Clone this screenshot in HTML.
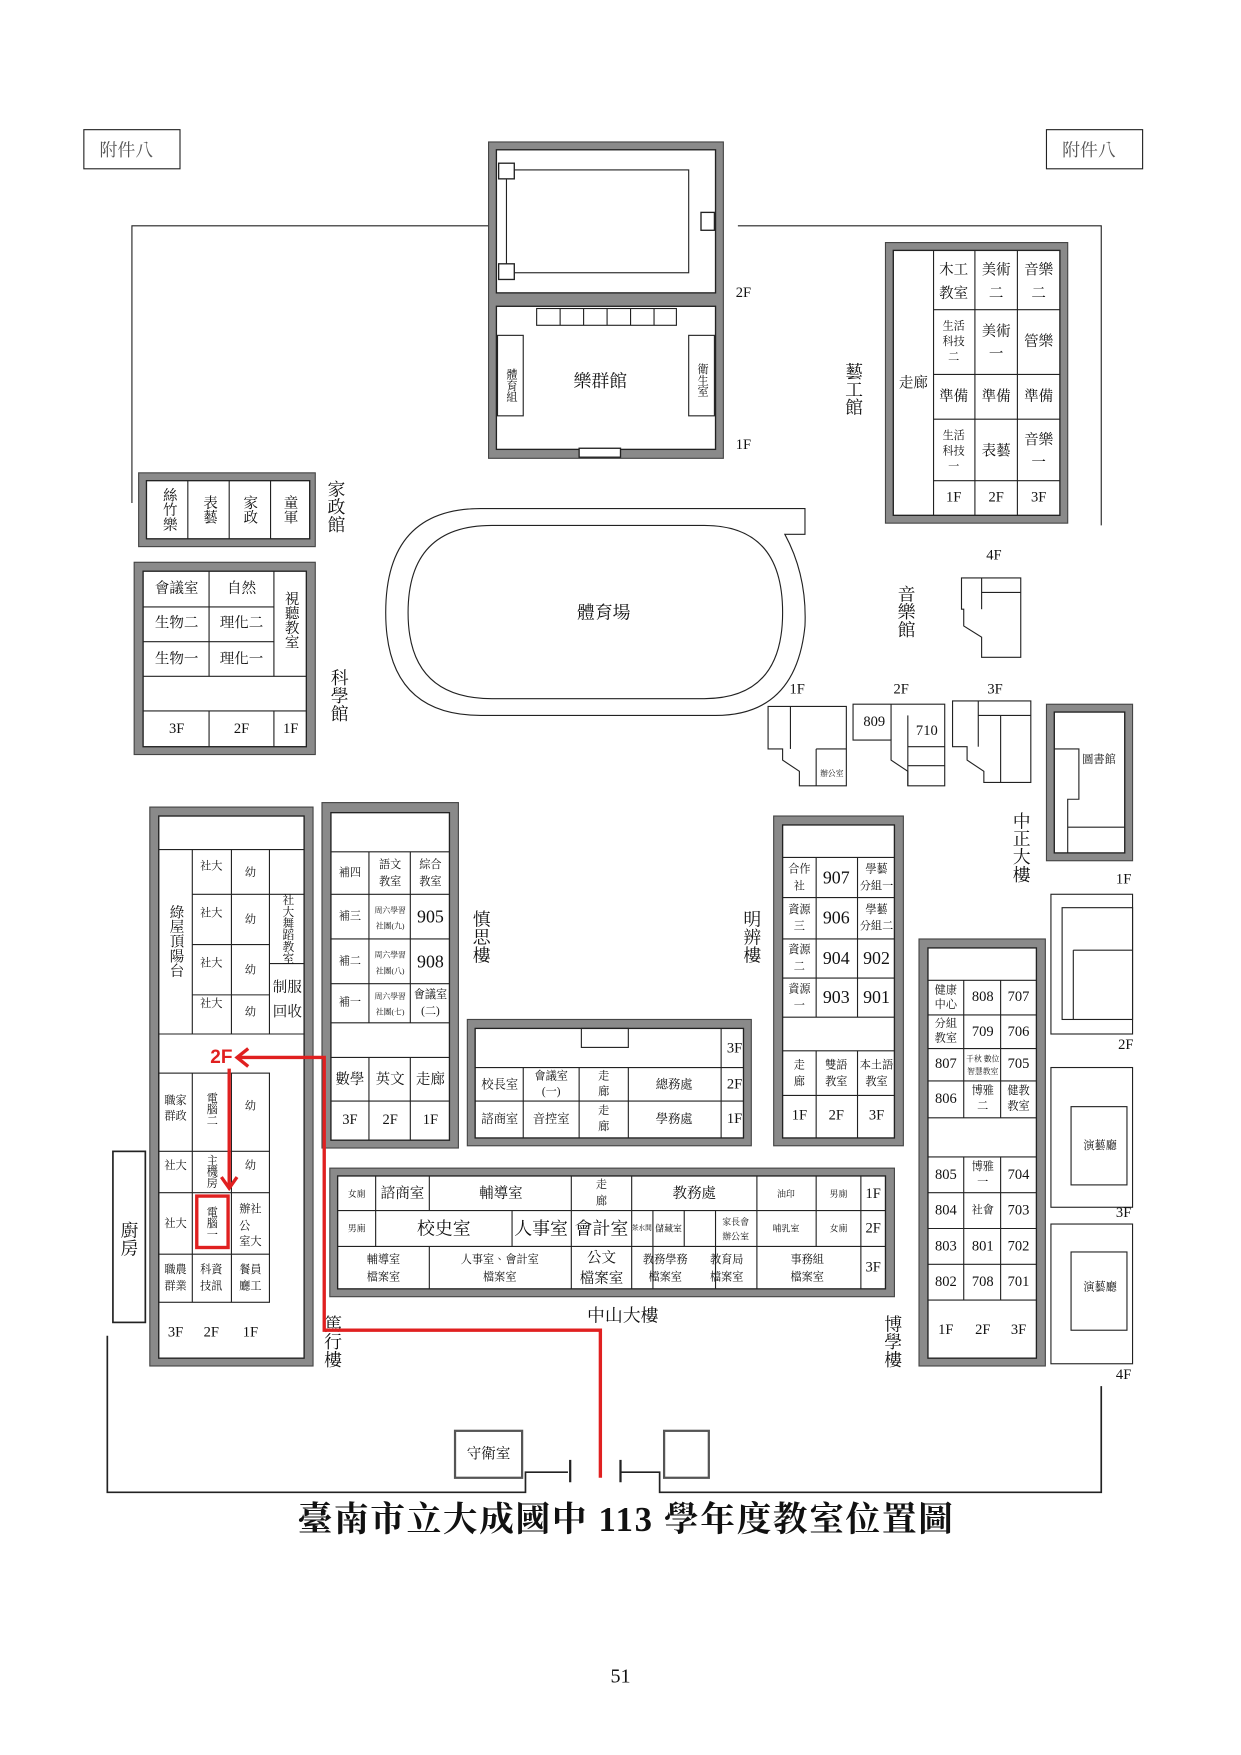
<!DOCTYPE html>
<html><head><meta charset="utf-8"><style>
html,body{margin:0;padding:0;background:#fff;}
svg{display:block}
text{font-family:"Liberation Serif","Noto Serif CJK TC","Noto Sans CJK TC",serif;fill:#111;text-anchor:middle;dominant-baseline:central}
.v{writing-mode:vertical-rl;text-orientation:upright}
.s{font-size:10px}
.m{font-size:13px}
.l{font-size:16px}
.o{fill:#8a8a8a;stroke:#444;stroke-width:1}
.i{fill:#fff;stroke:#222;stroke-width:1.2}
line,polyline,.c{stroke:#222;stroke-width:1;fill:none}
</style></head><body>
<svg width="1241" height="1755" viewBox="0 0 1110 1570" preserveAspectRatio="none" xmlns="http://www.w3.org/2000/svg">
<rect x="75" y="116" width="86" height="35" class="c"/><text x="113" y="134" class="l" style="fill:#555">附件八</text>
<rect x="936" y="116" width="86" height="35" class="c"/><text x="974" y="134" class="l" style="fill:#555">附件八</text>
<polyline points="118,450 118,202 437,202"/>
<polyline points="660,202 985,202 985,470"/>
<rect x="437" y="127" width="210" height="283" class="o"/>
<rect x="444" y="134" width="196" height="128" class="i"/>
<rect x="444" y="274" width="196" height="128" class="i"/>
<rect x="453" y="152" width="163" height="92" class="c"/>
<rect x="446" y="146" width="14" height="14" class="i"/><rect x="446" y="236" width="14" height="14" class="i"/><rect x="627" y="190" width="12" height="16" class="i"/>
<text x="665" y="262" class="m">2F</text>
<rect x="480" y="276" width="125" height="15" class="c"/>
<line x1="501" y1="276" x2="501" y2="291"/><line x1="522" y1="276" x2="522" y2="291"/><line x1="543" y1="276" x2="543" y2="291"/><line x1="564" y1="276" x2="564" y2="291"/><line x1="585" y1="276" x2="585" y2="291"/>
<rect x="445" y="300" width="23" height="72" class="c"/><text x="457" y="345" class="v s">體育組</text>
<rect x="616" y="300" width="23" height="72" class="c"/><text x="628" y="340" class="v s">衛生室</text>
<text x="537" y="341" class="l">樂群館</text>
<rect x="518" y="401" width="37" height="8" class="i"/>
<text x="665" y="398" class="m">1F</text>
<rect x="792" y="217" width="163" height="251" class="o"/>
<rect x="799" y="224" width="149" height="237" class="i"/>
<line x1="835" y1="224" x2="835" y2="461"/><line x1="872" y1="224" x2="872" y2="461"/><line x1="910" y1="224" x2="910" y2="461"/>
<line x1="835" y1="277" x2="948" y2="277"/><line x1="835" y1="335" x2="948" y2="335"/><line x1="835" y1="375" x2="948" y2="375"/><line x1="835" y1="430" x2="948" y2="430"/>
<text x="817" y="343" class="m">走廊</text>
<text class="m"><tspan x="853" y="242">木工</tspan><tspan x="853" y="263">教室</tspan></text>
<text class="m"><tspan x="891" y="242">美術</tspan><tspan x="891" y="263">二</tspan></text>
<text class="m"><tspan x="929" y="242">音樂</tspan><tspan x="929" y="263">二</tspan></text>
<text class="s"><tspan x="853" y="292">生活</tspan><tspan x="853" y="306">科技</tspan><tspan x="853" y="320">二</tspan></text>
<text class="m"><tspan x="891" y="297">美術</tspan><tspan x="891" y="317">一</tspan></text>
<text x="929" y="306" class="m">管樂</text>
<text x="853" y="355" class="m">準備</text><text x="891" y="355" class="m">準備</text><text x="929" y="355" class="m">準備</text>
<text class="s"><tspan x="853" y="390">生活</tspan><tspan x="853" y="404">科技</tspan><tspan x="853" y="418">一</tspan></text>
<text x="891" y="404" class="m">表藝</text>
<text class="m"><tspan x="929" y="394">音樂</tspan><tspan x="929" y="414">一</tspan></text>
<text x="853" y="445" class="m">1F</text><text x="891" y="445" class="m">2F</text><text x="929" y="445" class="m">3F</text>
<text x="763" y="348" class="v l">藝工館</text>
<rect x="124" y="423" width="158" height="66" class="o"/>
<rect x="131" y="430" width="146" height="52" class="i"/>
<line x1="168" y1="430" x2="168" y2="482"/><line x1="205" y1="430" x2="205" y2="482"/><line x1="242" y1="430" x2="242" y2="482"/>
<text x="151" y="456" class="v m">絲竹樂</text><text x="187" y="456" class="v m">表藝</text><text x="223" y="456" class="v m">家政</text><text x="259" y="456" class="v m">童軍</text>
<text x="300" y="453" class="v l">家政館</text>
<rect x="120" y="503" width="162" height="172" class="o"/>
<rect x="128" y="511" width="146" height="157" class="i"/>
<line x1="128" y1="543" x2="245" y2="543"/><line x1="128" y1="574" x2="245" y2="574"/><line x1="128" y1="605" x2="274" y2="605"/><line x1="128" y1="636" x2="274" y2="636"/>
<line x1="187" y1="511" x2="187" y2="605"/><line x1="245" y1="511" x2="245" y2="605"/>
<line x1="187" y1="636" x2="187" y2="668"/><line x1="245" y1="636" x2="245" y2="668"/>
<text x="158" y="527" class="m">會議室</text><text x="216" y="527" class="m">自然</text>
<text x="158" y="558" class="m">生物二</text><text x="216" y="558" class="m">理化二</text>
<text x="158" y="590" class="m">生物一</text><text x="216" y="590" class="m">理化一</text>
<text x="260" y="555" class="v m">視聽教室</text>
<text x="158" y="652" class="m">3F</text><text x="216" y="652" class="m">2F</text><text x="260" y="652" class="m">1F</text>
<text x="303" y="622" class="v l">科學館</text>
<path d="M430,455 L720,455 L720,478 L702,478 Q722,515 720,560 Q712,640 640,640 L430,640 Q345,640 345,548 Q345,455 430,455 Z" class="c"/>
<path d="M440,470 L630,470 Q700,470 700,548 Q700,625 630,625 L440,625 Q365,625 365,548 Q365,470 440,470 Z" class="c"/>
<text x="540" y="548" class="l">體育場</text>
<text x="810" y="547" class="v l">音樂館</text>
<text x="889" y="497" class="m">4F</text>
<path d="M860,517 L913,517 L913,588 L878,588 L878,570 L862,560 L862,545 L860,545 Z" class="c"/><line x1="878" y1="517" x2="878" y2="545"/><line x1="878" y1="530" x2="913" y2="530"/>
<text x="713" y="617" class="m">1F</text><text x="806" y="617" class="m">2F</text><text x="890" y="617" class="m">3F</text>
<path d="M687,632 L757,632 L757,703 L715,703 L715,690 L700,680 L700,670 L687,670 Z" class="c"/><line x1="707" y1="632" x2="707" y2="670"/><line x1="730" y1="670" x2="757" y2="670"/><line x1="730" y1="670" x2="730" y2="703"/><text x="744" y="692" class="s" style="font-size:7px">辦公室</text>
<path d="M763,630 L845,630 L845,703 L812,703 L812,690 L797,680 L797,662 L763,662 Z" class="c"/><line x1="797" y1="630" x2="797" y2="662"/><line x1="812" y1="640" x2="812" y2="703"/><line x1="812" y1="668" x2="845" y2="668"/><line x1="812" y1="685" x2="845" y2="685"/>
<text x="782" y="646" class="m">809</text><text x="829" y="654" class="m">710</text>
<path d="M852,627 L922,627 L922,700 L880,700 L880,690 L865,680 L865,668 L852,668 Z" class="c"/><line x1="875" y1="627" x2="875" y2="668"/><line x1="895" y1="640" x2="895" y2="700"/><line x1="875" y1="640" x2="922" y2="640"/>
<rect x="936" y="630" width="77" height="140" class="o"/>
<rect x="943" y="637" width="63" height="126" class="i"/>
<polyline points="943,670 965,670 965,715 955,715 955,763"/><line x1="955" y1="740" x2="1006" y2="740"/>
<text x="983" y="680" class="s">圖書館</text>
<text x="913" y="758" class="v l">中正大樓</text>
<text x="1005" y="787" class="m">1F</text>
<rect x="940" y="800" width="73" height="125" class="c"/><rect x="950" y="812" width="63" height="100" class="c"/><line x1="960" y1="850" x2="1013" y2="850"/><line x1="960" y1="850" x2="960" y2="912"/>
<text x="1007" y="935" class="m">2F</text>
<rect x="940" y="955" width="73" height="125" class="c"/><rect x="958" y="990" width="50" height="70" class="c"/><text x="984" y="1025" class="s">演藝廳</text>
<text x="1005" y="1085" class="m">3F</text>
<rect x="940" y="1095" width="73" height="125" class="c"/><rect x="958" y="1120" width="50" height="70" class="c"/><text x="984" y="1152" class="s">演藝廳</text>
<text x="1005" y="1230" class="m">4F</text>
<rect x="134" y="722" width="146" height="500" class="o"/>
<rect x="142" y="730" width="130" height="485" class="i"/>
<line x1="142" y1="760" x2="272" y2="760"/><line x1="142" y1="925" x2="272" y2="925"/>
<line x1="172" y1="760" x2="172" y2="925"/><line x1="207" y1="760" x2="207" y2="925"/><line x1="241" y1="760" x2="241" y2="925"/>
<line x1="172" y1="800" x2="241" y2="800"/><line x1="172" y1="845" x2="241" y2="845"/><line x1="172" y1="890" x2="241" y2="890"/><line x1="241" y1="800" x2="272" y2="800"/><line x1="241" y1="862" x2="272" y2="862"/>
<text x="157" y="842" class="v m">綠屋頂陽台</text>
<text x="189" y="775" class="s">社大</text><text x="224" y="781" class="s">幼</text>
<text x="189" y="817" class="s">社大</text><text x="224" y="823" class="s">幼</text>
<text x="189" y="862" class="s">社大</text><text x="224" y="868" class="s">幼</text>
<text x="189" y="898" class="s">社大</text><text x="224" y="906" class="s">幼</text>
<text x="257" y="831" class="v" style="font-size:10.5px">社大舞蹈教室</text>
<text class="m"><tspan x="257" y="884">制服</tspan><tspan x="257" y="906">回收</tspan></text>
<rect x="142" y="960" width="99" height="205" class="c"/>
<line x1="172" y1="960" x2="172" y2="1165"/><line x1="207" y1="960" x2="207" y2="1165"/>
<line x1="142" y1="1030" x2="241" y2="1030"/><line x1="142" y1="1067" x2="241" y2="1067"/><line x1="142" y1="1122" x2="241" y2="1122"/>
<text class="s"><tspan x="157" y="985">職家</tspan><tspan x="157" y="999">群政</tspan></text>
<text x="189" y="992" class="v s">電腦二</text><text x="224" y="990" class="s">幼</text>
<text x="157" y="1043" class="s">社大</text><text x="189" y="1048" class="v s">主機房</text><text x="224" y="1043" class="s">幼</text>
<text x="157" y="1095" class="s">社大</text><text x="189" y="1094" class="v s">電腦一</text>
<text class="s"><tspan x="224" y="1082">辦社</tspan><tspan x="219" y="1097">公</tspan><tspan x="224" y="1111">室大</tspan></text>
<text class="s"><tspan x="157" y="1136">職農</tspan><tspan x="157" y="1151">群業</tspan></text>
<text class="s"><tspan x="189" y="1136">科資</tspan><tspan x="189" y="1151">技訊</tspan></text>
<text class="s"><tspan x="224" y="1136">餐員</tspan><tspan x="224" y="1151">廳工</tspan></text>
<text x="157" y="1192" class="m">3F</text><text x="189" y="1192" class="m">2F</text><text x="224" y="1192" class="m">1F</text>
<rect x="101" y="1030" width="29" height="153" class="c" style="stroke-width:1.5"/><text x="115" y="1108" class="v l">廚房</text>
<text x="297" y="1200" class="v l">篤行樓</text>
<rect x="288" y="718" width="122" height="309" class="o"/>
<rect x="296" y="727" width="106" height="293" class="i"/>
<line x1="296" y1="762" x2="402" y2="762"/><line x1="296" y1="800" x2="402" y2="800"/><line x1="296" y1="840" x2="402" y2="840"/><line x1="296" y1="880" x2="402" y2="880"/><line x1="296" y1="915" x2="402" y2="915"/><line x1="296" y1="946" x2="402" y2="946"/><line x1="296" y1="985" x2="402" y2="985"/>
<line x1="330" y1="762" x2="330" y2="915"/><line x1="367" y1="762" x2="367" y2="915"/><line x1="330" y1="946" x2="330" y2="1020"/><line x1="367" y1="946" x2="367" y2="1020"/>
<text x="313" y="781" class="s">補四</text><text x="313" y="820" class="s">補三</text><text x="313" y="860" class="s">補二</text><text x="313" y="897" class="s">補一</text>
<text class="s"><tspan x="349" y="774">語文</tspan><tspan x="349" y="789">教室</tspan></text>
<text class="s"><tspan x="385" y="774">綜合</tspan><tspan x="385" y="789">教室</tspan></text>
<text class="s" style="font-size:7px"><tspan x="349" y="814">周六學習</tspan><tspan x="349" y="828">社團(九)</tspan></text>
<text class="s" style="font-size:7px"><tspan x="349" y="854">周六學習</tspan><tspan x="349" y="868">社團(八)</tspan></text>
<text class="s" style="font-size:7px"><tspan x="349" y="891">周六學習</tspan><tspan x="349" y="905">社團(七)</tspan></text>
<text x="385" y="820" class="l">905</text><text x="385" y="860" class="l">908</text>
<text class="s"><tspan x="385" y="890">會議室</tspan><tspan x="385" y="905">(二)</tspan></text>
<text x="313" y="966" class="m">數學</text><text x="349" y="966" class="m">英文</text><text x="385" y="966" class="m">走廊</text>
<text x="313" y="1002" class="m">3F</text><text x="349" y="1002" class="m">2F</text><text x="385" y="1002" class="m">1F</text>
<text x="430" y="838" class="v l">慎思樓</text>
<rect x="418" y="912" width="254" height="113" class="o"/>
<rect x="425" y="920" width="240" height="98" class="i"/>
<line x1="425" y1="955" x2="665" y2="955"/><line x1="425" y1="985" x2="665" y2="985"/>
<line x1="645" y1="920" x2="645" y2="1018"/><line x1="468" y1="955" x2="468" y2="1018"/><line x1="518" y1="955" x2="518" y2="1018"/><line x1="562" y1="955" x2="562" y2="1018"/>
<rect x="520" y="920" width="42" height="17" class="c"/>
<text x="657" y="938" class="m">3F</text><text x="657" y="970" class="m">2F</text><text x="657" y="1001" class="m">1F</text>
<text x="447" y="970" class="s" style="font-size:11px">校長室</text><text x="447" y="1001" class="s" style="font-size:11px">諮商室</text>
<text class="s"><tspan x="493" y="963">會議室</tspan><tspan x="493" y="977">(一)</tspan></text>
<text x="493" y="1001" class="s" style="font-size:11px">音控室</text>
<text class="s"><tspan x="540" y="963">走</tspan><tspan x="540" y="977">廊</tspan></text>
<text class="s"><tspan x="540" y="994">走</tspan><tspan x="540" y="1008">廊</tspan></text>
<text x="603" y="970" class="s" style="font-size:11px">總務處</text><text x="603" y="1001" class="s" style="font-size:11px">學務處</text>
<rect x="692" y="730" width="116" height="295" class="o"/>
<rect x="700" y="738" width="100" height="280" class="i"/>
<line x1="700" y1="767" x2="800" y2="767"/><line x1="700" y1="803" x2="800" y2="803"/><line x1="700" y1="840" x2="800" y2="840"/><line x1="700" y1="875" x2="800" y2="875"/><line x1="700" y1="910" x2="800" y2="910"/><line x1="700" y1="940" x2="800" y2="940"/><line x1="700" y1="980" x2="800" y2="980"/>
<line x1="730" y1="767" x2="730" y2="910"/><line x1="767" y1="767" x2="767" y2="910"/><line x1="730" y1="940" x2="730" y2="1018"/><line x1="767" y1="940" x2="767" y2="1018"/>
<text class="s"><tspan x="715" y="778">合作</tspan><tspan x="715" y="793">社</tspan></text>
<text class="s"><tspan x="715" y="814">資源</tspan><tspan x="715" y="829">三</tspan></text>
<text class="s"><tspan x="715" y="850">資源</tspan><tspan x="715" y="865">二</tspan></text>
<text class="s"><tspan x="715" y="885">資源</tspan><tspan x="715" y="900">一</tspan></text>
<text x="748" y="785" class="l">907</text><text x="748" y="821" class="l">906</text><text x="748" y="857" class="l">904</text><text x="748" y="892" class="l">903</text>
<text class="s"><tspan x="784" y="778">學藝</tspan><tspan x="784" y="793">分組一</tspan></text>
<text class="s"><tspan x="784" y="814">學藝</tspan><tspan x="784" y="829">分組二</tspan></text>
<text x="784" y="857" class="l">902</text><text x="784" y="892" class="l">901</text>
<text class="s"><tspan x="715" y="953">走</tspan><tspan x="715" y="968">廊</tspan></text>
<text class="s"><tspan x="748" y="953">雙語</tspan><tspan x="748" y="968">教室</tspan></text>
<text class="s"><tspan x="784" y="953">本土語</tspan><tspan x="784" y="968">教室</tspan></text>
<text x="715" y="998" class="m">1F</text><text x="748" y="998" class="m">2F</text><text x="784" y="998" class="m">3F</text>
<text x="672" y="838" class="v l">明辨樓</text>
<rect x="295" y="1045" width="505" height="115" class="o"/>
<rect x="302" y="1052" width="490" height="101" class="i"/>
<line x1="302" y1="1083" x2="792" y2="1083"/><line x1="302" y1="1115" x2="792" y2="1115"/><line x1="770" y1="1052" x2="770" y2="1153"/>
<line x1="336" y1="1052" x2="336" y2="1115"/><line x1="384" y1="1052" x2="384" y2="1083"/><line x1="511" y1="1052" x2="511" y2="1153"/><line x1="565" y1="1052" x2="565" y2="1153"/><line x1="677" y1="1052" x2="677" y2="1115"/><line x1="730" y1="1052" x2="730" y2="1115"/>
<line x1="458" y1="1083" x2="458" y2="1115"/><line x1="584" y1="1083" x2="584" y2="1153"/><line x1="612" y1="1083" x2="612" y2="1115"/><line x1="640" y1="1083" x2="640" y2="1153"/><line x1="384" y1="1115" x2="384" y2="1153"/><line x1="677" y1="1115" x2="677" y2="1153"/>
<text x="319" y="1068" class="s" style="font-size:8px">女廁</text><text x="360" y="1068" class="m">諮商室</text><text x="448" y="1068" class="m">輔導室</text>
<text class="s"><tspan x="538" y="1060">走</tspan><tspan x="538" y="1075">廊</tspan></text>
<text x="621" y="1068" class="m">教務處</text><text x="703" y="1068" class="s" style="font-size:8px">油印</text><text x="750" y="1068" class="s" style="font-size:8px">男廁</text><text x="781" y="1068" class="m">1F</text>
<text x="319" y="1099" class="s" style="font-size:8px">男廁</text><text x="397" y="1099" class="l">校史室</text><text x="484" y="1099" class="l">人事室</text><text x="538" y="1099" class="l">會計室</text>
<text x="574" y="1099" class="s" style="font-size:6px">茶水間</text><text x="598" y="1099" class="s" style="font-size:8px">儲藏室</text>
<text class="s" style="font-size:8px"><tspan x="658" y="1093">家長會</tspan><tspan x="658" y="1106">辦公室</tspan></text>
<text x="703" y="1099" class="s" style="font-size:8px">哺乳室</text><text x="750" y="1099" class="s" style="font-size:8px">女廁</text><text x="781" y="1099" class="m">2F</text>
<text class="s"><tspan x="343" y="1127">輔導室</tspan><tspan x="343" y="1143">檔案室</tspan></text>
<text class="s"><tspan x="447" y="1127">人事室、會計室</tspan><tspan x="447" y="1143">檔案室</tspan></text>
<text class="m"><tspan x="538" y="1126">公文</tspan><tspan x="538" y="1144">檔案室</tspan></text>
<text class="s"><tspan x="595" y="1127">教務學務</tspan><tspan x="595" y="1143">檔案室</tspan></text>
<text class="s"><tspan x="650" y="1127">教育局</tspan><tspan x="650" y="1143">檔案室</tspan></text>
<text class="s"><tspan x="722" y="1127">事務組</tspan><tspan x="722" y="1143">檔案室</tspan></text>
<text x="781" y="1134" class="m">3F</text>
<text x="557" y="1177" class="l">中山大樓</text>
<rect x="822" y="840" width="113" height="382" class="o"/>
<rect x="830" y="848" width="97" height="367" class="i"/>
<line x1="830" y1="877" x2="927" y2="877"/><line x1="830" y1="908" x2="927" y2="908"/><line x1="830" y1="938" x2="927" y2="938"/><line x1="830" y1="967" x2="927" y2="967"/><line x1="830" y1="1000" x2="927" y2="1000"/>
<line x1="830" y1="1035" x2="927" y2="1035"/><line x1="830" y1="1067" x2="927" y2="1067"/><line x1="830" y1="1099" x2="927" y2="1099"/><line x1="830" y1="1131" x2="927" y2="1131"/><line x1="830" y1="1163" x2="927" y2="1163"/>
<line x1="862" y1="877" x2="862" y2="1000"/><line x1="895" y1="877" x2="895" y2="1000"/><line x1="862" y1="1035" x2="862" y2="1163"/><line x1="895" y1="1035" x2="895" y2="1163"/>
<text class="s"><tspan x="846" y="886">健康</tspan><tspan x="846" y="899">中心</tspan></text>
<text class="s"><tspan x="846" y="916">分組</tspan><tspan x="846" y="929">教室</tspan></text>
<text x="846" y="952" class="m">807</text><text x="846" y="983" class="m">806</text>
<text x="879" y="892" class="m">808</text><text x="879" y="923" class="m">709</text>
<text class="s" style="font-size:7px"><tspan x="879" y="947">千秋 數位</tspan><tspan x="879" y="958">智慧教室</tspan></text>
<text class="s"><tspan x="879" y="976">博雅</tspan><tspan x="879" y="990">二</tspan></text>
<text x="911" y="892" class="m">707</text><text x="911" y="923" class="m">706</text><text x="911" y="952" class="m">705</text>
<text class="s"><tspan x="911" y="976">健教</tspan><tspan x="911" y="990">教室</tspan></text>
<text x="846" y="1051" class="m">805</text><text x="846" y="1083" class="m">804</text><text x="846" y="1115" class="m">803</text><text x="846" y="1147" class="m">802</text>
<text class="s"><tspan x="879" y="1044">博雅</tspan><tspan x="879" y="1058">一</tspan></text>
<text x="879" y="1083" class="s">社會</text><text x="879" y="1115" class="m">801</text><text x="879" y="1147" class="m">708</text>
<text x="911" y="1051" class="m">704</text><text x="911" y="1083" class="m">703</text><text x="911" y="1115" class="m">702</text><text x="911" y="1147" class="m">701</text>
<text x="846" y="1190" class="m">1F</text><text x="879" y="1190" class="m">2F</text><text x="911" y="1190" class="m">3F</text>
<text x="798" y="1200" class="v l">博學樓</text>
<polyline points="96,1195 96,1335 470,1335 470,1317 508,1317" style="stroke-width:1.5"/>
<line x1="510" y1="1306" x2="510" y2="1326" style="stroke-width:2"/>
<line x1="555" y1="1306" x2="555" y2="1326" style="stroke-width:2"/>
<polyline points="555,1317 590,1317 590,1335 985,1335 985,1240" style="stroke-width:1.5"/>
<rect x="407" y="1280" width="60" height="42" class="c" style="stroke-width:2;stroke:#555"/><text x="437" y="1301" class="m">守衛室</text>
<rect x="594" y="1280" width="40" height="42" class="c" style="stroke-width:2;stroke:#555"/>
<polyline points="537,1322 537,1190 290,1190 290,946 212,946" style="stroke:#e02020;stroke-width:3;fill:none"/>
<polyline points="222,938 212,946 222,954" style="stroke:#e02020;stroke-width:3;fill:none"/>
<line x1="205" y1="956" x2="205" y2="1062" style="stroke:#e02020;stroke-width:3"/>
<polyline points="198,1053 205,1063 212,1053" style="stroke:#e02020;stroke-width:3;fill:none"/>
<rect x="176" y="1070" width="28" height="46" style="fill:none;stroke:#e02020;stroke-width:3"/>
<text x="198" y="946" style="fill:#e02020;font-family:'Liberation Sans',sans-serif;font-weight:bold;font-size:17px">2F</text>
<text x="560" y="1360" style="font-size:31px;font-weight:bold;letter-spacing:1.5px;font-family:'Liberation Serif','Noto Serif CJK TC',serif">臺南市立大成國中 113 學年度教室位置圖</text>
<text x="555" y="1500" style="font-size:18px">51</text>
</svg>
</body></html>
